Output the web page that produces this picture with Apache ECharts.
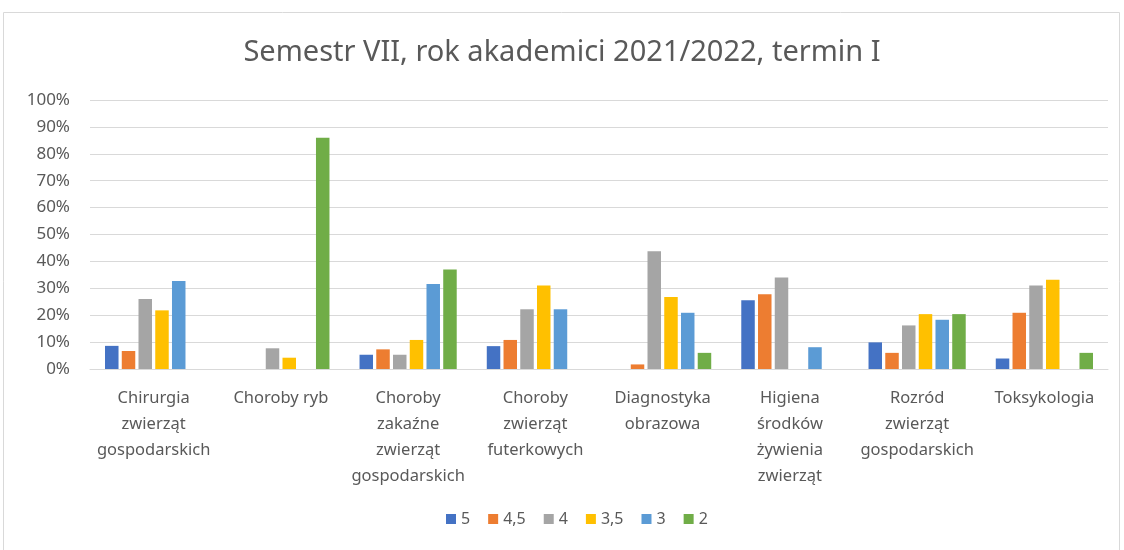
<!DOCTYPE html>
<html>
<head>
<meta charset="utf-8">
<script src="https://cdn.jsdelivr.net/npm/echarts@6/dist/echarts.min.js"></script>
<style>
  html, body { margin: 0; padding: 0; background: #fff; }
  #main { width: 1124px; height: 550px; }
</style>
</head>
<body>
<div id="main"></div>
<script>
// przedmioty (kategorie)
var categories = [
    'Chirurgia\nzwierząt\ngospodarskich',
    'Choroby ryb',
    'Choroby\nzakaźne\nzwierząt\ngospodarskich',
    'Choroby\nzwierząt\nfuterkowych',
    'Diagnostyka\nobrazowa',
    'Higiena\nśrodków\nżywienia\nzwierząt',
    'Rozród\nzwierząt\ngospodarskich',
    'Toksykologia'
];

// udział ocen w %
var ocena5   = [8.6, 0,   5.3, 8.5,  0,    25.6, 9.9,  3.9];
var ocena45  = [6.7, 0,   7.3, 10.8, 1.7,  27.8, 6.0,  20.9];
var ocena4   = [26.0, 7.7, 5.3, 22.2, 43.8, 34.0, 16.2, 31.0];
var ocena35  = [21.8, 4.2, 10.8, 31.0, 26.8, 0,   20.4, 33.2];
var ocena3   = [32.7, 0,   31.6, 22.2, 20.9, 8.1,  18.3, 0];
var ocena2   = [0,   86.0, 37.0, 0,    6.0,  0,    20.4, 6.0];

var seriesNames = ['5', '4,5', '4', '3,5', '3', '2'];
var seriesData = [ocena5, ocena45, ocena4, ocena35, ocena3, ocena2];
var colors = ['#4472C4', '#ED7D31', '#A5A5A5', '#FFC000', '#5B9BD5', '#70AD47'];

var textColor = '#595959';
var font = 'Noto Sans';

var myChart = echarts.init(document.getElementById('main'));

var series = seriesNames.map(function (name, i) {
    return {
        name: name,
        type: 'bar',
        data: seriesData[i],
        barWidth: 13.5,
        barGap: '24%',
        itemStyle: { color: colors[i] },
        emphasis: { disabled: true }
    };
});

var option = {
    animation: false,
    color: colors,
    textStyle: { fontFamily: font },
    title: {
        text: 'Semestr VII, rok akademici 2021/2022, termin I',
        left: 'center',
        top: 33,
        textStyle: { color: textColor, fontSize: 29, fontWeight: 'normal', fontFamily: font }
    },
    graphic: [{
        type: 'rect',
        shape: { x: 3.5, y: 12.5, width: 1116, height: 560 },
        style: { fill: 'none', stroke: '#d9d9d9', lineWidth: 1 },
        silent: true
    }],
    legend: {
        bottom: 18,
        left: 441,
        itemWidth: 10,
        itemHeight: 10,
        itemGap: 18,
        icon: 'rect',
        textStyle: { color: textColor, fontSize: 16, fontFamily: font }
    },
    grid: {
        left: 90,
        right: 16,
        top: 100,
        bottom: 181,
        containLabel: false
    },
    xAxis: {
        type: 'category',
        data: categories,
        axisLine: { lineStyle: { color: '#d9d9d9', width: 1 } },
        axisTick: { show: false },
        axisLabel: {
            color: textColor,
            fontSize: 16.5,
            lineHeight: 26,
            margin: 16,
            interval: 0,
            fontFamily: font
        }
    },
    yAxis: {
        type: 'value',
        min: 0,
        max: 100,
        interval: 10,
        axisLine: { show: false },
        axisTick: { show: false },
        splitLine: { lineStyle: { color: '#d9d9d9', width: 1 } },
        axisLabel: {
            formatter: '{value}%',
            color: textColor,
            fontSize: 17,
            margin: 20,
            fontFamily: font
        }
    },
    series: series
};

myChart.setOption(option);
</script>
</body>
</html>
